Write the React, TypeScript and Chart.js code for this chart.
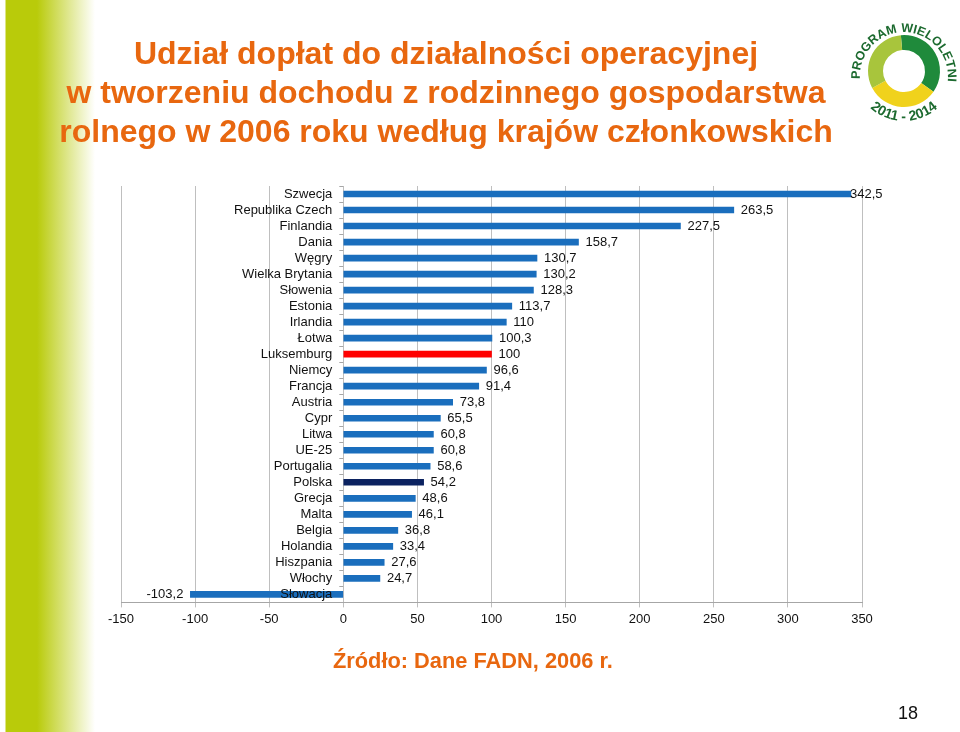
import React, { useEffect, useRef } from "react";
import { Chart, registerables } from "chart.js";

Chart.register(...registerables);

const countries: string[] = [
  "Szwecja", "Republika Czech", "Finlandia", "Dania", "Węgry", "Wielka Brytania",
  "Słowenia", "Estonia", "Irlandia", "Łotwa", "Luksemburg", "Niemcy", "Francja",
  "Austria", "Cypr", "Litwa", "UE-25", "Portugalia", "Polska", "Grecja", "Malta",
  "Belgia", "Holandia", "Hiszpania", "Włochy", "Słowacja",
];

const values: number[] = [
  342.5, 263.5, 227.5, 158.7, 130.7, 130.2, 128.3, 113.7, 110, 100.3, 100, 96.6, 91.4,
  73.8, 65.5, 60.8, 60.8, 58.6, 54.2, 48.6, 46.1, 36.8, 33.4, 27.6, 24.7, -103.2,
];

const xMin = -150;
const xMax = 350;
const xStep = 50;

const titleLines: string[] = [
  "Udział dopłat do działalności operacyjnej",
  "w tworzeniu dochodu z rodzinnego gospodarstwa",
  "rolnego w 2006 roku według krajów członkowskich",
];
const sourceText = "Źródło: Dane FADN, 2006 r.";
const pageNumber = "18";
const logoTop = "PROGRAM WIELOLETNI";
const logoBottom = "2011 - 2014";

const BLUE = "#1a6ebd";
const RED = "#ff0000";
const NAVY = "#0b2260";
const ORANGE = "#e8670f";
const FONT = '"Liberation Sans", Arial, sans-serif';

function barColor(name: string): string {
  if (name === "Luksemburg") return RED;
  if (name === "Polska") return NAVY;
  return BLUE;
}

function fmt(v: number): string {
  return String(v).replace(".", ",");
}

const labelPlugin = {
  id: "customLabels",
  afterDatasetsDraw(chart: any) {
    const { ctx, chartArea, scales } = chart;
    const x = scales.x;
    const meta = chart.getDatasetMeta(0);
    const x0 = x.getPixelForValue(0);
    const n = countries.length;
    const band = (chartArea.bottom - chartArea.top) / n;
    ctx.save();
    ctx.strokeStyle = "#a6a6a6";
    ctx.lineWidth = 1;
    for (let i = 0; i <= n; i++) {
      const yy = Math.round(chartArea.top + i * band) + 0.5;
      ctx.beginPath();
      ctx.moveTo(x0 - 4, yy);
      ctx.lineTo(x0, yy);
      ctx.stroke();
    }
    ctx.font = "13px " + FONT;
    ctx.textBaseline = "middle";
    ctx.fillStyle = "#111";
    meta.data.forEach((bar: any, i: number) => {
      ctx.textAlign = "right";
      ctx.fillText(countries[i], x0 - 11, bar.y);
      const v = values[i];
      if (v >= 0) {
        ctx.textAlign = "left";
        ctx.fillText(fmt(v), Math.min(bar.x + 7, chartArea.right - 12), bar.y);
      } else {
        ctx.textAlign = "right";
        ctx.fillText(fmt(v), bar.x - 7, bar.y);
      }
    });
    ctx.restore();
  },
};

function Logo() {
  const cx = 904;
  const cy = 71;
  const rO = 36;
  const rI = 21;
  const rad = (d: number) => (d * Math.PI) / 180;
  const pt = (r: number, a: number) => [cx + r * Math.cos(rad(a)), cy + r * Math.sin(rad(a))];
  const arc = (a0: number, a1: number) => {
    const [x1, y1] = pt(rO, a0);
    const [x2, y2] = pt(rO, a1);
    const [x3, y3] = pt(rI, a1);
    const [x4, y4] = pt(rI, a0);
    const large = a1 - a0 > 180 ? 1 : 0;
    return `M${x1},${y1} A${rO},${rO} 0 ${large} 1 ${x2},${y2} L${x3},${y3} A${rI},${rI} 0 ${large} 0 ${x4},${y4} Z`;
  };
  const tr = 44;
  const br = 50;
  const [bx1, by1] = pt(br, 150);
  const [bx2, by2] = pt(br, 30);
  return (
    <g>
      <defs>
        <path id="topArc" d={`M${cx - tr},${cy + 8} A${tr},${tr} 0 1 1 ${cx + tr - 2},${cy + 18}`} />
        <path id="botArc" d={`M${bx1},${by1} A${br},${br} 0 0 0 ${bx2},${by2}`} />
      </defs>
      <path d={arc(-95, 35)} fill="#1f8a3b" />
      <path d={arc(35, 152)} fill="#f0d21c" />
      <path d={arc(152, 265)} fill="#a8c53c" />
      <text fontFamily={FONT} fontWeight="bold" fontSize="12.5" fill="#1c6a2f">
        <textPath href="#topArc">{logoTop}</textPath>
      </text>
      <text fontFamily={FONT} fontWeight="bold" fontSize="14" fill="#1c6a2f" textAnchor="middle">
        <textPath href="#botArc" startOffset="50%">{logoBottom}</textPath>
      </text>
    </g>
  );
}

export default function App() {
  const canvasRef = useRef<HTMLCanvasElement | null>(null);

  useEffect(() => {
    const canvas = canvasRef.current;
    if (!canvas) return;
    const chart = new Chart(canvas, {
      type: "bar",
      data: {
        labels: countries,
        datasets: [
          {
            data: values,
            backgroundColor: countries.map(barColor),
            borderWidth: 0,
            barThickness: 6,
          },
        ],
      },
      options: {
        indexAxis: "y",
        animation: false,
        responsive: false,
        devicePixelRatio: 1,
        layout: { padding: { left: 121, right: 98, top: 186, bottom: 101 } },
        plugins: {
          legend: { display: false },
          tooltip: { enabled: false },
          title: { display: false },
        },
        scales: {
          x: {
            min: xMin,
            max: xMax,
            ticks: {
              stepSize: xStep,
              color: "#111",
              font: { family: FONT, size: 13 },
              padding: 4,
            },
            grid: {
              color: "#bfbfbf",
              tickLength: 5,
              drawTicks: true,
              lineWidth: 1,
            },
            border: { color: "#a6a6a6", width: 1 },
          },
          y: {
            display: false,
          },
        },
      },
      plugins: [labelPlugin],
    });
    return () => chart.destroy();
  }, []);

  return (
    <div style={{ position: "absolute", left: 0, top: 0, width: 960, height: 732, background: "#fff", overflow: "hidden" }}>
      <div
        style={{
          position: "absolute",
          left: 0,
          top: 0,
          width: 100,
          height: 732,
          background: "linear-gradient(to right, #ffffff 0px, #ffffff 5px, #b9cb0a 6px, #b9cb0a 37px, #ffffff 95px)",
        }}
      />
      <canvas ref={canvasRef} width={960} height={732} style={{ position: "absolute", left: 0, top: 0, display: "block" }} />
      <svg width={960} height={732} style={{ position: "absolute", left: 0, top: 0, pointerEvents: "none" }}>
        {titleLines.map((t, i) => (
          <text key={i} x={446} y={64 + i * 39} textAnchor="middle" fontFamily={FONT} fontWeight="bold" fontSize="32" fill={ORANGE}>
            {t}
          </text>
        ))}
        <text x={333} y={668} fontFamily={FONT} fontWeight="bold" fontSize="21.8" fill={ORANGE}>
          {sourceText}
        </text>
        <text x={918} y={719} textAnchor="end" fontFamily={FONT} fontSize="18" fill="#111">
          {pageNumber}
        </text>
        <Logo />
      </svg>
    </div>
  );
}
